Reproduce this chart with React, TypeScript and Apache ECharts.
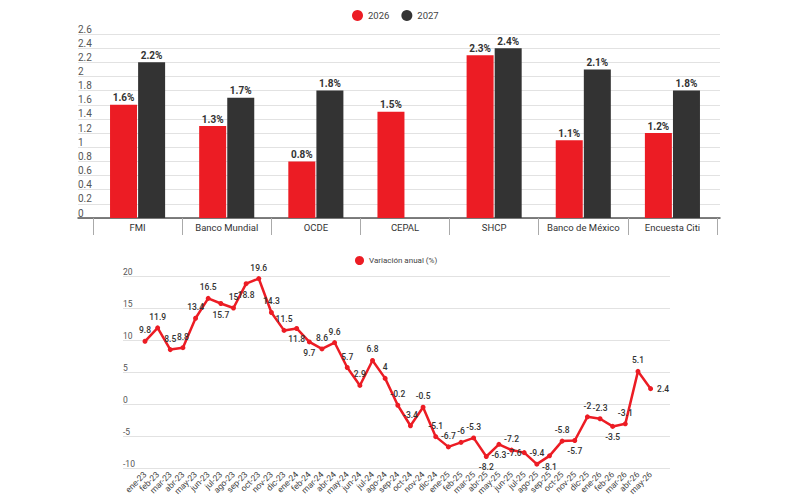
import React, { useEffect, useRef } from "react";
import * as echarts from "echarts";

const categoriesTop = ["FMI", "Banco Mundial", "OCDE", "CEPAL", "SHCP", "Banco de México", "Encuesta Citi"];
const values2026 = [1.6, 1.3, 0.8, 1.5, 2.3, 1.1, 1.2];
const values2027: (number | null)[] = [2.2, 1.7, 1.8, null, 2.4, 2.1, 1.8];

const months = [
  "ene-23", "feb-23", "mar-23", "abr-23", "may-23", "jun-23", "jul-23", "ago-23", "sep-23", "oct-23", "nov-23", "dic-23",
  "ene-24", "feb-24", "mar-24", "abr-24", "may-24", "jun-24", "jul-24", "ago-24", "sep-24", "oct-24", "nov-24", "dic-24",
  "ene-25", "feb-25", "mar-25", "abr-25", "may-25", "jun-25", "jul-25", "ago-25", "sep-25", "oct-25", "nov-25", "dic-25",
  "ene-26", "feb-26", "mar-26", "abr-26", "may-26",
];
const variacion = [
  9.8, 11.9, 8.5, 8.8, 13.4, 16.5, 15.7, 15, 18.8, 19.6, 14.3, 11.5,
  11.8, 9.7, 8.6, 9.6, 5.7, 2.9, 6.8, 4, -0.2, -3.4, -0.5, -5.1,
  -6.7, -6, -5.3, -8.2, -6.3, -7.2, -7.6, -9.4, -8.1, -5.8, -5.7, -2,
  -2.3, -3.5, -3.1, 5.1, 2.4,
];

// label placement style for each point of the line
const labelPlacement = [
  "top", "top", "top", "top", "top", "top", "bottom", "top", "bottom", "top", "top", "top",
  "bottom", "bottom", "top", "top", "top", "top", "top", "top", "top", "top", "top", "top",
  "top", "top", "top", "bottom", "bottom", "top", "left", "top", "bottom", "top", "bottom", "top",
  "top", "bottom", "top", "top", "right",
];
// label distance style (tighter where neighbours crowd)
const labelDistance = [
  4, 4, 4, 4, 4, 4, 4, 4, 4, 4, 4, 4,
  4, 4, 4, 4, 4, 4, 4, 4, 4, 4, 4, 4,
  4, 4, 4, 4, 4, 4, 0, 4, 4, 4, 4, 4,
  4, 4, 4, 4, 4,
];

const RED = "#EC1C24";
const DARK = "#333333";
const FONT = "Roboto, 'Noto Sans', sans-serif";

export default function App() {
  const ref = useRef<HTMLDivElement>(null);

  useEffect(() => {
    document.body.style.margin = "0";
    const chart = echarts.init(ref.current!, undefined, { renderer: "svg" });
    const barLabel = {
      show: true,
      position: "top",
      distance: 2,
      formatter: "{c}%",
      color: "#333",
      fontSize: 10,
      fontWeight: "bold",
      fontFamily: FONT,
    };
    const option: any = {
      animation: false,
      backgroundColor: "#ffffff",
      textStyle: { fontFamily: FONT },
      legend: [
        {
          data: ["2026", "2027"],
          left: 347,
          top: 5,
          icon: "circle",
          itemWidth: 11,
          itemHeight: 11,
          itemGap: 12,
          textStyle: { fontSize: 9.5, color: "#444", fontFamily: FONT },
        },
        {
          data: ["Variación anual (%)"],
          left: 350,
          top: 251,
          icon: "circle",
          itemWidth: 9,
          itemHeight: 9,
          textStyle: { fontSize: 8, color: "#444", fontFamily: FONT },
        },
      ],
      grid: [
        { left: 78, right: 80, top: 34, height: 184 },
        { left: 93, right: 83, top: 34, height: 184 },
        { left: 123, right: 130, top: 276, height: 192 },
        { left: 145, width: 505.6, top: 276, height: 192 },
      ],
      xAxis: [
        {
          gridIndex: 0,
          type: "value",
          min: 0,
          max: 1,
          axisLine: { show: true, onZero: false, lineStyle: { color: "#555", width: 1.5 } },
          axisTick: { show: false },
          axisLabel: { show: false },
          splitLine: { show: false },
        },
        {
          gridIndex: 1,
          type: "category",
          data: categoriesTop,
          axisLine: { show: false },
          axisTick: { show: true, interval: 0, length: 17, lineStyle: { color: "#aaa" } },
          axisLabel: { interval: 0, color: "#333", fontSize: 9.5, margin: 4, fontFamily: FONT },
        },
        {
          gridIndex: 2,
          type: "value",
          show: false,
        },
        {
          gridIndex: 3,
          type: "category",
          boundaryGap: false,
          data: months,
          axisLine: { show: false },
          axisTick: { show: false },
          axisLabel: { rotate: 45, interval: 0, fontSize: 8.5, color: "#444", margin: 5, fontFamily: FONT },
        },
      ],
      yAxis: [
        {
          gridIndex: 0,
          type: "value",
          min: 0,
          max: 2.6,
          interval: 0.2,
          axisLine: { show: false },
          axisTick: { show: false },
          axisLabel: { inside: true, verticalAlign: "bottom", margin: 0, color: "#555", fontSize: 10, fontFamily: FONT },
          splitLine: { lineStyle: { color: "#e2e2e2" } },
        },
        { gridIndex: 1, type: "value", min: 0, max: 2.6, show: false },
        {
          gridIndex: 2,
          type: "value",
          min: -10,
          max: 20,
          interval: 5,
          axisLine: { show: false },
          axisTick: { show: false },
          axisLabel: { inside: true, verticalAlign: "bottom", margin: 0, color: "#555", fontSize: 8.5, fontFamily: FONT },
          splitLine: { lineStyle: { color: "#e2e2e2" } },
        },
        { gridIndex: 3, type: "value", min: -10, max: 20, show: false },
      ],
      series: [
        {
          name: "2026",
          type: "bar",
          xAxisIndex: 1,
          yAxisIndex: 1,
          data: values2026,
          barWidth: 27,
          barGap: "4%",
          itemStyle: { color: RED },
          label: barLabel,
        },
        {
          name: "2027",
          type: "bar",
          xAxisIndex: 1,
          yAxisIndex: 1,
          data: values2027,
          barWidth: 27,
          barGap: "4%",
          itemStyle: { color: DARK },
          label: barLabel,
        },
        {
          name: "Variación anual (%)",
          type: "line",
          xAxisIndex: 3,
          yAxisIndex: 3,
          data: variacion.map((v, i) => ({
            value: v,
            label: { position: labelPlacement[i], distance: labelDistance[i] },
          })),
          symbol: "circle",
          symbolSize: 5,
          lineStyle: { color: RED, width: 2.5 },
          itemStyle: { color: RED },
          label: {
            show: true,
            color: "#333",
            fontSize: 8.5,
            fontWeight: 500,
            fontFamily: FONT,
          },
        },
      ],
    };
    chart.setOption(option);
    return () => chart.dispose();
  }, []);

  return <div ref={ref} style={{ width: 800, height: 500 }} />;
}
